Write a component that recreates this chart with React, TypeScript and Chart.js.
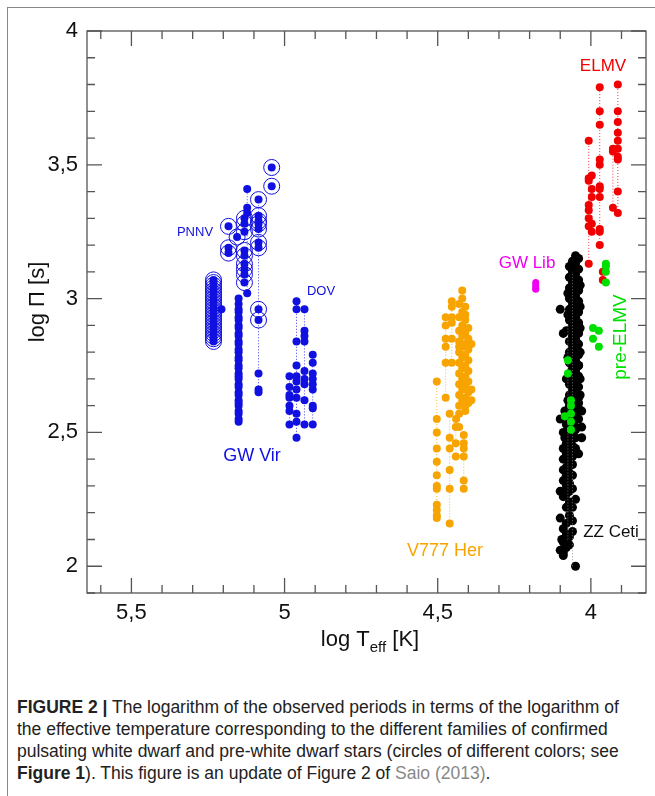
import { useEffect, useRef } from 'react';
import { Chart, registerables } from 'chart.js';
import type { Plugin } from 'chart.js';
import React from 'react';

Chart.register(...registerables);

type P = [number, number];

const xTickLabels = ['5,5', '5', '4,5', '4'];
const xTickValues = [5.5, 5, 4.5, 4];
const yTickLabels = ['2', '2,5', '3', '3,5', '4'];
const yTickValues = [2, 2.5, 3, 3.5, 4];

// GW Vir / PNNV
const gwVirCircledColumn = [2.84, 2.85, 2.86, 2.87, 2.88, 2.89, 2.9, 2.91, 2.92, 2.93, 2.94, 2.95, 2.96, 2.97, 2.98, 2.99, 3.0, 3.01, 3.02, 3.03, 3.04, 3.05, 3.06, 3.07];
const gwVirLongColumn = [2.54, 2.55, 2.57, 2.58, 2.6, 2.61, 2.62, 2.64, 2.65, 2.67, 2.68, 2.7, 2.71, 2.72, 2.74, 2.75, 2.77, 2.78, 2.8, 2.81, 2.83, 2.84, 2.86, 2.87, 2.89, 2.9, 2.92, 2.93, 2.95, 2.96, 2.98, 3.0];
const pnnvCircled: P[] = [
  [5.183, 3.27], [5.183, 3.19], [5.183, 3.17], [5.155, 3.23],
  [5.131, 3.3], [5.131, 3.28], [5.131, 3.25], [5.131, 3.18], [5.131, 3.16], [5.131, 3.13], [5.131, 3.11], [5.131, 3.09], [5.131, 3.06],
  [5.085, 3.37], [5.085, 3.31], [5.085, 3.29], [5.085, 3.28], [5.085, 3.26], [5.085, 3.21], [5.085, 3.19], [5.085, 2.96], [5.085, 2.92],
  [5.042, 3.49], [5.042, 3.42],
];
const pnnvPlain: P[] = [[5.122, 3.41], [5.122, 3.34], [5.122, 3.32], [5.122, 3.02], [5.206, 2.96], [5.085, 2.72], [5.085, 2.66], [5.085, 2.65]];
const pnnvColumnA = [3.02, 3.06, 3.09, 3.11, 3.13, 3.16, 3.18, 3.25, 3.28, 3.3, 3.32, 3.34, 3.41];
const pnnvColumnB = [2.65, 2.66, 2.72, 2.92, 2.96, 3.19, 3.21, 3.26, 3.28, 3.29, 3.31, 3.37];
// DOV
const dovTeff = [4.984, 4.961, 4.935, 4.908];
const dovPeriods = [
  [2.53, 2.58, 2.6, 2.63, 2.64, 2.67, 2.71],
  [2.48, 2.54, 2.57, 2.63, 2.66, 2.69, 2.71, 2.75, 2.84, 2.96, 2.99],
  [2.53, 2.62, 2.68, 2.7, 2.73, 2.84, 2.86, 2.88, 2.96],
  [2.53, 2.59, 2.6, 2.66, 2.68, 2.7, 2.72, 2.76, 2.79],
];
// V777 Her
const v777Teff = [4.503, 4.474, 4.461, 4.454, 4.441, 4.415];
const v777Periods = [
  [2.18, 2.19, 2.21, 2.23, 2.29, 2.3, 2.34, 2.39, 2.44, 2.5, 2.55, 2.69],
  [2.63, 2.76, 2.82, 2.85, 2.9, 2.93],
  [2.16, 2.29, 2.36, 2.44, 2.48, 2.57],
  [2.76, 2.85, 2.91, 2.93, 2.97, 2.99],
  [2.41, 2.46, 2.52],
  [2.29, 2.32, 2.41, 2.44, 2.46, 2.49],
];
const v777Cluster: P[] = [
  [4.42, 3.03], [4.42, 3.0], [4.43, 2.98], [4.41, 2.97], [4.42, 2.95], [4.43, 2.93], [4.41, 2.92], [4.42, 2.9], [4.4, 2.89], [4.43, 2.88],
  [4.41, 2.87], [4.42, 2.86], [4.4, 2.85], [4.43, 2.84], [4.41, 2.83], [4.39, 2.83], [4.42, 2.82], [4.4, 2.81], [4.43, 2.8], [4.41, 2.79],
  [4.42, 2.78], [4.4, 2.77], [4.43, 2.76], [4.41, 2.75], [4.42, 2.74], [4.4, 2.73], [4.43, 2.72], [4.41, 2.71], [4.42, 2.7], [4.4, 2.69],
  [4.43, 2.68], [4.41, 2.67], [4.39, 2.66], [4.42, 2.66], [4.4, 2.65], [4.43, 2.64], [4.41, 2.63], [4.42, 2.62], [4.4, 2.61], [4.39, 2.62],
  [4.43, 2.6], [4.41, 2.58], [4.43, 2.57], [4.44, 2.55], [4.43, 2.52], [4.42, 2.88], [4.41, 2.94], [4.43, 2.82], [4.42, 2.68], [4.41, 2.6],
];
// GW Lib
const gwLib: P[] = [[4.18, 3.06], [4.18, 3.05], [4.18, 3.04], [4.18, 3.035]];
// ZZ Ceti
const zzCeti: P[] = [
  [4.05, 3.16], [4.04, 3.15], [4.06, 3.14], [4.05, 3.13], [4.07, 3.12], [4.04, 3.11], [4.06, 3.1], [4.05, 3.09], [4.07, 3.08], [4.04, 3.07],
  [4.06, 3.06], [4.05, 3.05], [4.07, 3.04], [4.04, 3.03], [4.06, 3.02], [4.05, 3.01], [4.07, 3.0], [4.04, 2.99], [4.06, 2.98], [4.05, 2.97],
  [4.07, 2.96], [4.04, 2.95], [4.06, 2.94], [4.05, 2.93], [4.07, 2.92], [4.04, 2.91], [4.06, 2.9], [4.05, 2.89], [4.07, 2.88], [4.04, 2.87],
  [4.06, 2.86], [4.05, 2.85], [4.07, 2.84], [4.04, 2.83], [4.06, 2.82], [4.05, 2.81], [4.07, 2.8], [4.04, 2.79], [4.06, 2.78], [4.05, 2.77],
  [4.07, 2.76], [4.04, 2.75], [4.06, 2.74], [4.05, 2.73], [4.07, 2.72], [4.04, 2.71], [4.06, 2.7], [4.05, 2.69], [4.07, 2.68], [4.04, 2.67],
  [4.06, 2.66], [4.05, 2.65], [4.07, 2.64], [4.04, 2.63], [4.06, 2.62], [4.05, 2.61], [4.07, 2.6], [4.04, 2.59], [4.06, 2.58], [4.05, 2.57],
  [4.07, 2.56], [4.04, 2.55], [4.06, 2.54], [4.08, 2.53], [4.05, 2.52], [4.07, 2.51], [4.08, 2.5], [4.06, 2.49], [4.05, 2.48], [4.07, 2.47],
  [4.08, 2.46], [4.06, 2.45], [4.05, 2.44], [4.07, 2.43], [4.08, 2.42], [4.06, 2.41], [4.09, 2.4], [4.07, 2.39], [4.06, 2.38], [4.08, 2.37],
  [4.07, 2.35], [4.06, 2.34], [4.08, 2.33], [4.09, 2.32], [4.07, 2.31], [4.08, 2.3], [4.06, 2.29], [4.07, 2.28], [4.08, 2.27], [4.09, 2.26],
  [4.07, 2.24], [4.08, 2.22], [4.07, 2.19], [4.06, 2.17], [4.08, 2.16], [4.09, 2.14], [4.08, 2.12], [4.07, 2.11], [4.09, 2.09], [4.08, 2.07],
  [4.1, 2.06], [4.09, 2.05], [4.09, 2.04], [4.07, 2.08], [4.05, 2.0],
  [4.05, 3.07], [4.06, 3.0], [4.05, 2.93], [4.06, 2.86], [4.05, 2.79], [4.06, 2.72], [4.05, 2.65], [4.06, 2.58], [4.05, 2.51], [4.06, 2.45],
  [4.1, 2.96], [4.09, 2.87], [4.03, 2.58], [4.03, 2.52], [4.03, 2.48], [4.04, 2.42], [4.1, 2.55], [4.09, 2.5], [4.09, 2.44], [4.08, 2.34],
  [4.06, 3.11], [4.05, 2.96], [4.04, 2.9], [4.05, 2.83], [4.04, 2.75], [4.05, 2.68], [4.04, 2.61], [4.05, 2.55], [4.08, 2.7], [4.08, 2.88],
  [4.035, 3.05], [4.035, 2.97], [4.035, 2.89], [4.035, 2.8], [4.035, 2.7], [4.035, 2.64], [4.075, 3.02], [4.075, 2.94], [4.075, 2.78], [4.075, 2.62],
  [4.085, 2.58], [4.09, 2.36], [4.1, 2.28], [4.06, 2.22], [4.1, 2.18], [4.06, 2.13], [4.095, 2.1], [4.05, 2.25], [4.045, 2.6], [4.085, 2.48],
];
// ELMV
const elmvTeff = [4.007, 3.997, 3.971, 3.961, 3.928, 3.912];
const elmvPeriods = [
  [3.13, 3.27, 3.3, 3.33, 3.35, 3.44, 3.45, 3.59],
  [3.25, 3.28, 3.38, 3.41, 3.46],
  [3.2, 3.25, 3.26, 3.38, 3.41, 3.42, 3.5, 3.52, 3.65, 3.7, 3.79],
  [3.07, 3.1],
  [3.34, 3.55, 3.56],
  [3.32, 3.4, 3.52, 3.53, 3.56, 3.59, 3.62, 3.66, 3.7, 3.8],
];
// pre-ELMV
const preElmv: P[] = [
  [3.951, 3.13], [3.951, 3.12], [3.951, 3.1], [3.951, 3.06], [3.993, 2.89], [3.993, 2.85], [3.974, 2.88], [3.974, 2.82],
  [4.075, 2.77], [4.075, 2.72], [4.065, 2.62], [4.065, 2.6], [4.065, 2.57], [4.065, 2.54], [4.065, 2.51], [4.085, 2.56],
];

const BLUE = '#1010e0';
const ORANGE = '#f8a400';
const RED = '#f00000';
const GREEN = '#00e000';
const MAGENTA = '#f000f0';
const FONT = '"Liberation Sans Narrow", "Liberation Sans", Arial, sans-serif';

const pts = (x: number, ys: number[]) => ys.map((y) => ({ x, y }));
const pairs = (list: P[]) => list.map(([x, y]) => ({ x, y }));

const dotted = (data: { x: number; y: number }[], color: string, radius = 4) => ({
  data,
  showLine: true,
  borderColor: color,
  borderWidth: 0.8,
  borderDash: [1, 2],
  backgroundColor: color,
  pointRadius: radius,
  pointBorderWidth: 0,
});
const dots = (data: { x: number; y: number }[], color: string, radius = 4) => ({
  data,
  showLine: false,
  backgroundColor: color,
  borderColor: color,
  pointRadius: radius,
  pointBorderWidth: 0,
});
const rings = (data: { x: number; y: number }[], color: string) => ({
  data,
  showLine: false,
  backgroundColor: 'rgba(0,0,0,0)',
  borderColor: color,
  pointRadius: 8,
  pointBorderWidth: 1,
});

const framePlugin: Plugin<'scatter'> = {
  id: 'frame',
  afterDraw(chart) {
    const { ctx, chartArea: a, scales } = chart;
    const xs = scales.x;
    const ys = scales.y;
    ctx.save();
    ctx.strokeStyle = '#555';
    ctx.lineWidth = 1.3;
    ctx.strokeRect(a.left, a.top, a.right - a.left, a.bottom - a.top);
    ctx.beginPath();
    for (let i = 38; i <= 56; i++) {
      const px = xs.getPixelForValue(i / 10);
      if (px < a.left || px > a.right) continue;
      const len = i % 5 === 0 ? 15 : 8;
      ctx.moveTo(px, a.bottom); ctx.lineTo(px, a.bottom - len);
      ctx.moveTo(px, a.top); ctx.lineTo(px, a.top + len);
    }
    for (let i = 19; i <= 40; i++) {
      const py = ys.getPixelForValue(i / 10);
      if (py < a.top - 0.5 || py > a.bottom) continue;
      const len = i % 5 === 0 ? 15 : 8;
      ctx.moveTo(a.left, py); ctx.lineTo(a.left + len, py);
      ctx.moveTo(a.right, py); ctx.lineTo(a.right - len, py);
    }
    ctx.stroke();

    ctx.fillStyle = '#111';
    ctx.font = `22px ${FONT}`;
    ctx.textAlign = 'center';
    ctx.textBaseline = 'middle';
    xTickValues.forEach((v, i) => ctx.fillText(xTickLabels[i], xs.getPixelForValue(v), a.bottom + 20));
    ctx.textAlign = 'right';
    yTickValues.forEach((v, i) => ctx.fillText(yTickLabels[i], a.left - 9, ys.getPixelForValue(v)));

    // axis titles
    ctx.textAlign = 'left';
    const t1 = 'log T';
    const w1 = ctx.measureText(t1).width;
    ctx.font = `15px ${FONT}`;
    const w2 = ctx.measureText('eff').width;
    ctx.font = `22px ${FONT}`;
    const w3 = ctx.measureText(' [K]').width;
    let tx = 370 - (w1 + w2 + w3) / 2;
    const ty = a.bottom + 47;
    ctx.fillText(t1, tx, ty);
    tx += w1;
    ctx.font = `15px ${FONT}`;
    ctx.fillText('eff', tx, ty + 8);
    tx += w2;
    ctx.font = `22px ${FONT}`;
    ctx.fillText(' [K]', tx, ty);

    ctx.save();
    ctx.translate(38, 302);
    ctx.rotate(-Math.PI / 2);
    ctx.textAlign = 'center';
    ctx.fillText('log \u03A0 [s]', 0, 0);
    ctx.restore();

    // family labels
    const label = (text: string, x: number, y: number, color: string, size: number, rot = false) => {
      ctx.save();
      ctx.fillStyle = color;
      ctx.font = `${size}px ${FONT}`;
      ctx.textAlign = 'center';
      ctx.translate(x, y);
      if (rot) ctx.rotate(-Math.PI / 2);
      ctx.fillText(text, 0, 0);
      ctx.restore();
    };
    label('PNNV', 195, 232, BLUE, 13);
    label('DOV', 321, 291, BLUE, 13);
    label('GW Vir', 252, 456, BLUE, 18);
    label('V777 Her', 445, 551, ORANGE, 18);
    label('GW Lib', 527, 263, MAGENTA, 17);
    label('ZZ Ceti', 611, 532, '#111', 17);
    label('ELMV', 603, 66, RED, 17);
    label('pre-ELMV', 621, 337, GREEN, 19, true);
    ctx.restore();
  },
};

const App = () => {
  const canvasRef = useRef<HTMLCanvasElement>(null);

  useEffect(() => {
    if (!canvasRef.current) return;
    // listed bottom layer first; reversed below because Chart.js paints the first dataset on top
    const layers: any[] = [
      rings(pts(5.232, gwVirCircledColumn), BLUE),
      dots(pts(5.232, gwVirCircledColumn), BLUE),
      dotted(pts(5.15, gwVirLongColumn), BLUE),
      dotted(pts(5.122, pnnvColumnA), BLUE, 0),
      dotted(pts(5.085, pnnvColumnB), BLUE, 0),
      rings(pairs(pnnvCircled), BLUE),
      dots(pairs(pnnvCircled), BLUE),
      dots(pairs(pnnvPlain), BLUE),
      ...dovTeff.map((x, i) => dotted(pts(x, dovPeriods[i]), BLUE)),
      ...v777Teff.map((x, i) => dotted(pts(x, v777Periods[i]), ORANGE)),
      dots(pairs(v777Cluster), ORANGE),
      dots(pairs(gwLib), MAGENTA, 3.5),
      dots(pairs(zzCeti), '#000', 4.5),
      dotted(pairs([[4.06, 2.0], [4.06, 3.1]]), '#888', 0),
      dotted(pairs([[4.075, 2.1], [4.075, 2.9]]), '#888', 0),
      ...elmvTeff.map((x, i) => dotted(pts(x, elmvPeriods[i]), RED)),
      dots(pairs(preElmv), GREEN),
    ];
    const datasets = layers.slice().reverse();
    const chart = new Chart(canvasRef.current, {
      type: 'scatter',
      data: { datasets },
      options: {
        animation: false,
        responsive: false,
        layout: { padding: { left: 87, top: 31, right: 4, bottom: 87 } },
        plugins: { legend: { display: false }, tooltip: { enabled: false } },
        scales: {
          x: { type: 'linear', reverse: true, min: 3.82, max: 5.645, display: false },
          y: { type: 'linear', min: 1.9, max: 4, display: false },
        },
      },
      plugins: [framePlugin],
    });
    return () => chart.destroy();
  }, []);

  return (
    <div style={{ position: 'absolute', left: 0, top: 0, width: 655, height: 796, background: '#fff', overflow: 'hidden' }}>
      <div style={{ position: 'absolute', left: 7, top: 7, width: 660, height: 800, borderLeft: '1.5px solid #888', borderTop: '1.5px solid #888' }} />
      <canvas ref={canvasRef} width={655} height={680} style={{ position: 'absolute', left: 0, top: 0 }} />
      <div
        style={{
          position: 'absolute', left: 17, top: 696, width: 630,
          fontFamily: FONT, fontSize: 17.5, lineHeight: '22px', color: '#222',
        }}
      >
        <b>FIGURE 2 |</b> The logarithm of the observed periods in terms of the logarithm of the effective temperature corresponding to the different families of confirmed pulsating white dwarf and pre-white dwarf stars (circles of different colors; see <b>Figure 1</b>). This figure is an update of Figure 2 of <span style={{ color: '#888' }}>Saio (2013)</span>.
      </div>
    </div>
  );
};

export default App;
